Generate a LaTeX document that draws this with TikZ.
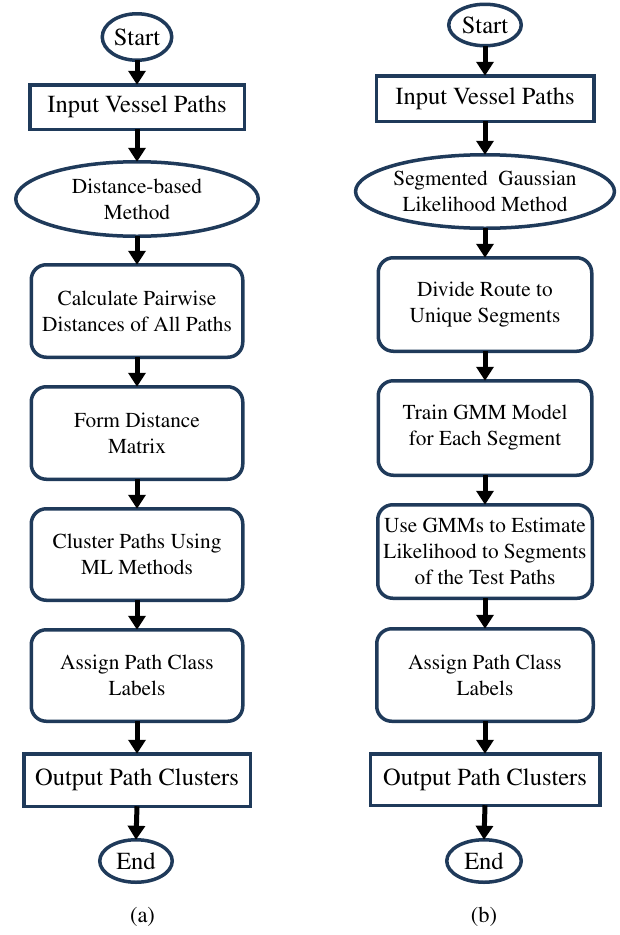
\documentclass[tikz,border=0pt]{standalone}
\usepackage[T1]{fontenc}
\renewcommand{\rmdefault}{ptm}
\usetikzlibrary{shapes.geometric,arrows.meta}
\definecolor{navy}{HTML}{1F3A5A}
\begin{document}
\begin{tikzpicture}[x=1pt,y=-1pt,
  base/.style={draw=navy,line width=3.5pt,inner sep=0pt,outer sep=0pt,align=center,text=black,fill=white},
  bodyfont/.style={font=\fontsize{21.3}{26}\selectfont},
  bigfont/.style={font=\fontsize{24.5}{29}\selectfont},
  term/.style={base,ellipse,bigfont},
  io/.style={base,rectangle,bigfont},
  meth/.style={base,ellipse,bodyfont},
  stepbox/.style={base,rectangle,rounded corners=15pt,bodyfont},
  arr/.style={line width=5pt,-{Triangle[width=17pt,length=14pt]}},
  captext/.style={font=\fontsize{22.5}{26}\selectfont,inner sep=0pt},
]
\useasboundingbox (0,0) rectangle (619,935);
% ---------- left column ----------
\node[term,minimum width=69.5pt,minimum height=46.5pt] (a1) at (137,37) {Start};
\node[io,minimum width=214.5pt,minimum height=44.5pt] (a2) at (137,107) {Input Vessel Paths};
\node[meth,minimum width=242.5pt,minimum height=74.5pt] (a3) at (137,199) {Distance-based\\Method};
\node[stepbox,minimum width=211.5pt,minimum height=92.5pt] (a4) at (137,311) {Calculate Pairwise\\Distances of All Paths};
\node[stepbox,minimum width=211.5pt,minimum height=92.5pt] (a5) at (137,433) {Form Distance\\Matrix};
\node[stepbox,minimum width=211.5pt,minimum height=91.5pt] (a6) at (137,554.5) {Cluster Paths Using\\ML Methods};
\node[stepbox,minimum width=211.5pt,minimum height=91.5pt] (a7) at (137,675.5) {Assign Path Class\\Labels};
\node[io,minimum width=226.5pt,minimum height=52.5pt] (a8) at (137,780) {Output Path Clusters};
\node[term,minimum width=72.5pt,minimum height=42.5pt] (a9) at (136,861) {End};
\node[captext] (capa) at (142.5,917) {(a)};
\foreach \i/\j in {a1/a2,a2/a3,a3/a4,a4/a5,a5/a6,a6/a7,a7/a8,a8/a9}
  \draw[arr] (\i.south) -- (\j.north);
% ---------- right column ----------
\node[term,minimum width=72.5pt,minimum height=41.5pt] (b1) at (485,25) {Start};
\node[io,minimum width=217.5pt,minimum height=45.5pt] (b2) at (485,98.5) {Input Vessel Paths};
\node[meth,minimum width=245.5pt,minimum height=73.5pt] (b3) at (485,191.5) {Segmented\ \ Gaussian\\Likelihood Method};
\node[stepbox,minimum width=213.5pt,minimum height=93.5pt] (b4) at (485,304.5) {Divide Route to\\Unique Segments};
\node[stepbox,minimum width=213.5pt,minimum height=94.5pt] (b5) at (485,428) {Train GMM Model\\for Each Segment};
\node[stepbox,minimum width=214.5pt,minimum height=93.5pt] (b6) at (485,551.5) {Use GMMs to Estimate\\Likelihood to Segments\\of the Test Paths};
\node[stepbox,minimum width=216.5pt,minimum height=92.5pt] (b7) at (485,675) {Assign Path Class\\Labels};
\node[io,minimum width=229.5pt,minimum height=51.5pt] (b8) at (485,779.5) {Output Path Clusters};
\node[term,minimum width=74.5pt,minimum height=42.5pt] (b9) at (484,861) {End};
\node[captext] (capb) at (484,917) {(b)};
\foreach \i/\j in {b1/b2,b2/b3,b3/b4,b4/b5,b5/b6,b6/b7,b7/b8,b8/b9}
  \draw[arr] (\i.south) -- (\j.north);
\end{tikzpicture}
\end{document}
